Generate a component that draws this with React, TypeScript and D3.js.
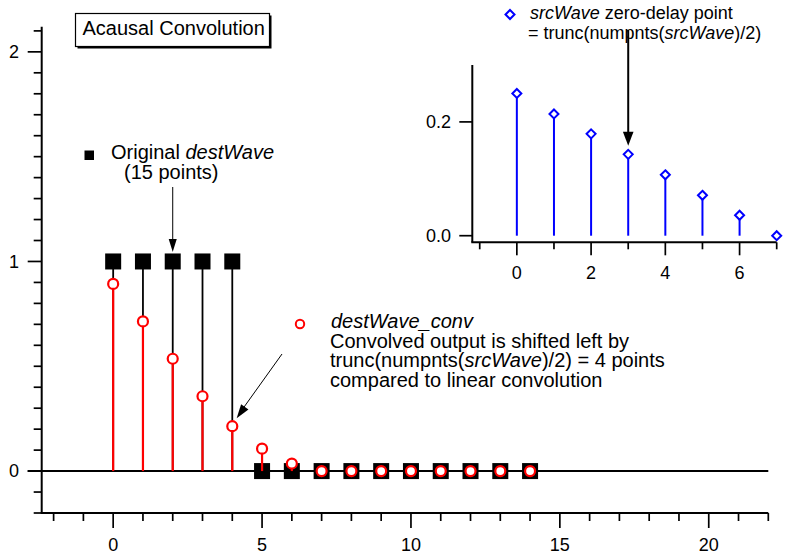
import React from "react";
import * as d3 from "d3";

// ---- data ----
const destWave = [1, 1, 1, 1, 1, 0, 0, 0, 0, 0, 0, 0, 0, 0, 0];
const destWaveConv = [0.893, 0.714, 0.536, 0.357, 0.214, 0.107, 0.036, 0, 0, 0, 0, 0, 0, 0, 0];
const srcWave = [0.25, 0.214, 0.179, 0.143, 0.107, 0.071, 0.036, 0];

const mainXMajor = [0, 5, 10, 15, 20];
const mainYMajor = [0, 1, 2];
const insetXMajor = [0, 2, 4, 6];
const insetYMajor = [0, 0.2];

const FONT = "'Liberation Sans', Arial, Helvetica, sans-serif";

export default function App() {
  const W = 785, H = 557;
  const x = d3.scaleLinear().domain([-2.4, 22]).range([41.7, 768.3]);
  const y = d3.scaleLinear().domain([-0.2, 2.12]).range([513, 26.7]);
  const ix = d3.scaleLinear().domain([-1.2, 7]).range([472.3, 776.7]);
  const iy = d3.scaleLinear().domain([-0.0116, 0.3]).range([242.3, 65]);

  const xMinor = d3.range(-2, 23).filter((v) => !mainXMajor.includes(v));
  const yMinor = y.ticks(25).filter((v) => !mainYMajor.some((m) => Math.abs(m - v) < 1e-9));
  const ixMinor = d3.range(-1, 8).filter((v) => !insetXMajor.includes(v));

  const x0 = x.range()[0];
  const yb = y.range()[0];
  const ix0 = ix.range()[0];
  const iyb = iy.range()[0];

  const arrowHead = (tx: number, ty: number, fx: number, fy: number, len: number, hw: number) => {
    const dx = tx - fx, dy = ty - fy;
    const L = Math.hypot(dx, dy);
    const ux = dx / L, uy = dy / L;
    const bx = tx - ux * len, by = ty - uy * len;
    return `M${tx},${ty}L${bx - uy * hw},${by + ux * hw}L${bx + uy * hw},${by - ux * hw}Z`;
  };

  return (
    <svg width={W} height={H} style={{ position: "absolute", left: 0, top: 0, background: "#fff" }} fontFamily={FONT}>
      {/* main axes */}
      <line x1={x0} x2={x0} y1={y.range()[1]} y2={yb} stroke="#000" strokeWidth={2} />
      <line x1={x0 - 1} x2={x.range()[1]} y1={yb} y2={yb} stroke="#000" strokeWidth={2} />
      {mainYMajor.map((v) => (
        <g key={"ym" + v}>
          <line x1={x0 - 14} x2={x0} y1={y(v)} y2={y(v)} stroke="#000" strokeWidth={1.7} />
          <text x={19} y={y(v)} dy="0.35em" textAnchor="end" fontSize={18}>{v}</text>
        </g>
      ))}
      {yMinor.map((v) => (
        <line key={"yn" + v} x1={x0 - 8} x2={x0} y1={y(v)} y2={y(v)} stroke="#000" strokeWidth={1.7} />
      ))}
      {mainXMajor.map((v) => (
        <g key={"xm" + v}>
          <line x1={x(v)} x2={x(v)} y1={yb} y2={yb + 15} stroke="#000" strokeWidth={1.7} />
          <text x={x(v)} y={545} dy="0.35em" textAnchor="middle" fontSize={18}>{v}</text>
        </g>
      ))}
      {xMinor.map((v) => (
        <line key={"xn" + v} x1={x(v)} x2={x(v)} y1={yb} y2={yb + 8} stroke="#000" strokeWidth={1.7} />
      ))}

      {/* zero line */}
      <line x1={x0 - 14} x2={x.range()[1]} y1={y(0)} y2={y(0)} stroke="#000" strokeWidth={2} />

      {/* original destWave */}
      {destWave.map((v, i) => (
        <line key={"bs" + i} x1={x(i)} x2={x(i)} y1={y(0)} y2={y(v)} stroke="#000" strokeWidth={1.8} />
      ))}
      {destWave.map((v, i) => (
        <rect key={"bq" + i} x={x(i) - 8} y={y(v) - 8} width={16} height={16} fill="#000" />
      ))}

      {/* destWave_conv */}
      {destWaveConv.map((v, i) => (
        <line key={"rs" + i} x1={x(i)} x2={x(i)} y1={y(0)} y2={y(v)} stroke="#f00" strokeWidth={2.2} />
      ))}
      {destWaveConv.map((v, i) => (
        <circle key={"rc" + i} cx={x(i)} cy={y(v)} r={5} fill="#fff" stroke="#f00" strokeWidth={2.2} />
      ))}

      {/* title box */}
      <rect x={77.5} y={15.5} width={194} height={33} fill="#000" />
      <rect x={75.5} y={13.5} width={194} height={33} fill="#fff" stroke="#000" strokeWidth={1.2} />
      <text x={82.5} y={34.7} fontSize={20}>Acausal Convolution</text>

      {/* destWave legend */}
      <rect x={84.5} y={150.5} width={9.5} height={9.5} fill="#000" />
      <text x={111} y={159} fontSize={20}>
        Original <tspan fontStyle="italic">destWave</tspan>
      </text>
      <text x={124} y={178.5} fontSize={20}>(15 points)</text>
      <line x1={x(2)} x2={x(2)} y1={187} y2={240} stroke="#000" strokeWidth={1} />
      <path d={arrowHead(x(2), 252, x(2), 187, 13, 4)} fill="#000" />

      {/* destWave_conv legend */}
      <circle cx={300} cy={324} r={4.2} fill="#fff" stroke="#f00" strokeWidth={2} />
      <text x={331} y={327.5} fontSize={20} fontStyle="italic">destWave_conv</text>
      <text x={330} y={347.5} fontSize={20}>Convolved output is shifted left by</text>
      <text x={330} y={367.2} fontSize={20}>
        trunc(numpnts(<tspan fontStyle="italic">srcWave</tspan>)/2) = 4 points
      </text>
      <text x={330} y={386.8} fontSize={20}>compared to linear convolution</text>
      <line x1={282} y1={354} x2={243} y2={408.5} stroke="#000" strokeWidth={1} />
      <path d={arrowHead(236.7, 418.3, 282, 354, 14, 4.5)} fill="#000" />

      {/* inset */}
      <line x1={ix0} x2={ix0} y1={iy.range()[1]} y2={iyb} stroke="#000" strokeWidth={2} />
      <line x1={ix0 - 1} x2={ix.range()[1]} y1={iyb} y2={iyb} stroke="#000" strokeWidth={2} />
      {insetYMajor.map((v) => (
        <g key={"iym" + v}>
          <line x1={ix0 - 13} x2={ix0} y1={iy(v)} y2={iy(v)} stroke="#000" strokeWidth={1.7} />
          <text x={451} y={iy(v)} dy="0.35em" textAnchor="end" fontSize={18}>{d3.format(".1f")(v)}</text>
        </g>
      ))}
      {insetXMajor.map((v) => (
        <g key={"ixm" + v}>
          <line x1={ix(v)} x2={ix(v)} y1={iyb} y2={iyb + 13} stroke="#000" strokeWidth={1.7} />
          <text x={ix(v)} y={272.5} dy="0.35em" textAnchor="middle" fontSize={18}>{v}</text>
        </g>
      ))}
      {ixMinor.map((v) => (
        <line key={"ixn" + v} x1={ix(v)} x2={ix(v)} y1={iyb} y2={iyb + 7} stroke="#000" strokeWidth={1.7} />
      ))}
      {srcWave.map((v, i) => (
        <line key={"is" + i} x1={ix(i)} x2={ix(i)} y1={iy(0)} y2={iy(v)} stroke="#00f" strokeWidth={2} />
      ))}
      {srcWave.map((v, i) => (
        <path
          key={"id" + i}
          d={`M${ix(i)},${iy(v) - 4.5}L${ix(i) + 4.5},${iy(v)}L${ix(i)},${iy(v) + 4.5}L${ix(i) - 4.5},${iy(v)}Z`}
          fill="#fff"
          stroke="#00f"
          strokeWidth={2}
        />
      ))}

      {/* inset legend */}
      <path d="M510,10L514.5,14.5L510,19L505.5,14.5Z" fill="#fff" stroke="#00f" strokeWidth={2} />
      <text x={530} y={18.5} fontSize={18}>
        <tspan fontStyle="italic">srcWave</tspan> zero-delay point
      </text>
      <text x={528} y={38.5} fontSize={18}>
        = trunc(numpnts(<tspan fontStyle="italic">srcWave</tspan>)/2)
      </text>
      <line x1={ix(3)} x2={ix(3)} y1={30} y2={134} stroke="#000" strokeWidth={2} />
      <path d={arrowHead(ix(3), 145.7, ix(3), 30, 14, 5.3)} fill="#000" />
    </svg>
  );
}
